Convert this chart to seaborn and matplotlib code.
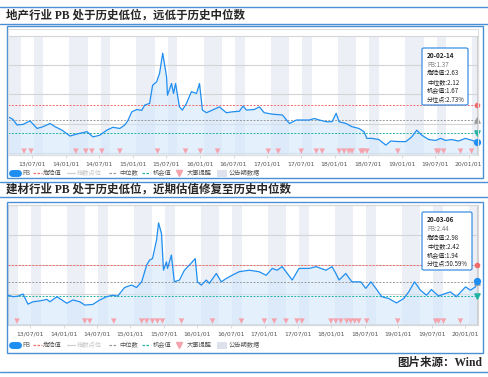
import pandas as pd
import numpy as np
import matplotlib.pyplot as plt
import seaborn as sns
from matplotlib.patches import Rectangle, FancyBboxPatch
from matplotlib.lines import Line2D

# 地产行业 PB
re_dates = ['2013-02-22', '2013-03-20', '2013-04-11', '2013-05-14', '2013-06-21', '2013-07-29',
            '2013-08-30', '2013-10-08', '2013-11-04', '2013-12-12', '2014-01-24', '2014-03-03',
            '2014-04-27', '2014-05-29', '2014-07-05', '2014-08-12', '2014-09-14', '2014-10-22',
            '2014-11-18', '2014-12-04', '2014-12-26', '2015-01-22', '2015-02-18', '2015-03-06',
            '2015-04-02', '2015-04-18', '2015-05-10', '2015-05-26', '2015-06-12', '2015-07-03',
            '2015-07-08', '2015-07-30', '2015-08-10', '2015-08-21', '2015-09-11', '2015-09-27',
            '2015-10-19', '2015-11-15', '2015-12-13', '2015-12-29', '2016-01-14', '2016-02-05',
            '2016-03-08', '2016-04-15', '2016-05-23', '2016-06-25', '2016-08-02', '2016-08-22',
            '2016-09-09', '2016-10-22', '2016-11-18', '2016-12-15', '2017-01-28', '2017-03-24',
            '2017-05-01', '2017-06-08', '2017-07-10', '2017-08-17', '2017-09-13', '2017-10-10',
            '2017-11-17', '2017-12-19', '2018-01-10', '2018-01-26', '2018-03-05', '2018-04-06',
            '2018-05-14', '2018-06-10', '2018-06-26', '2018-07-23', '2018-08-30', '2018-10-07',
            '2018-11-03', '2018-12-16', '2019-01-24', '2019-02-25', '2019-03-24', '2019-04-20',
            '2019-05-28', '2019-07-05', '2019-08-01', '2019-08-28', '2019-09-29', '2019-11-06',
            '2019-12-14', '2020-02-14']
re_pb = [2.23, 2.14, 1.95, 1.97, 2.09, 1.83, 1.89, 2.00, 1.89, 1.77, 1.57, 1.64,
         1.72, 1.54, 1.60, 1.77, 1.87, 1.83, 1.95, 2.09, 2.40, 2.48, 2.45, 2.63,
         2.69, 3.31, 3.43, 3.72, 4.41, 3.60, 2.97, 3.37, 3.03, 3.37, 2.57, 2.46,
         2.69, 3.09, 3.03, 3.37, 2.46, 2.37, 2.46, 2.57, 2.37, 2.40, 2.42, 2.60,
         2.46, 2.48, 2.57, 2.37, 2.32, 2.29, 2.00, 2.12, 2.12, 2.12, 2.17, 2.12,
         2.06, 2.06, 2.35, 2.06, 2.00, 1.89, 1.83, 1.72, 1.49, 1.49, 1.45, 1.26,
         1.40, 1.38, 1.38, 1.54, 1.77, 1.60, 1.45, 1.42, 1.49, 1.42, 1.45, 1.40,
         1.49, 1.37]
re_levels = [2.63, 2.12, 1.67]  # 危险值, 中位数, 机会值
re_events = ['2013-05-19', '2013-06-26', '2014-02-25', '2014-04-20', '2014-05-23', '2014-07-16',
             '2014-10-22', '2015-05-15', '2015-10-14', '2016-01-03', '2016-04-05', '2017-01-06',
             '2017-03-01', '2017-07-04', '2017-09-24', '2017-10-26', '2018-01-26', '2018-02-22',
             '2018-03-20', '2018-04-06', '2018-05-25', '2018-06-05', '2018-06-26', '2018-12-11',
             '2019-07-10', '2019-07-21', '2019-08-17', '2019-11-17', '2020-01-16']

# 建材行业 PB
bm_dates = ['2013-03-05', '2013-04-01', '2013-04-28', '2013-05-25', '2013-06-21', '2013-07-18',
            '2013-08-25', '2013-10-02', '2013-10-19', '2013-11-26', '2013-12-23', '2014-01-19',
            '2014-02-21', '2014-03-30', '2014-04-27', '2014-06-09', '2014-07-17', '2014-08-24',
            '2014-09-26', '2014-10-23', '2014-11-30', '2015-01-07', '2015-02-03', '2015-03-03',
            '2015-03-30', '2015-04-15', '2015-05-01', '2015-05-23', '2015-06-03', '2015-06-19',
            '2015-06-30', '2015-07-16', '2015-07-22', '2015-08-12', '2015-08-28', '2015-09-25',
            '2015-10-22', '2015-11-18', '2015-12-04', '2015-12-20', '2016-01-01', '2016-01-22',
            '2016-02-18', '2016-03-06', '2016-04-13', '2016-05-10', '2016-06-06', '2016-07-08',
            '2016-08-16', '2016-10-09', '2016-12-02', '2017-01-10', '2017-02-12', '2017-03-11',
            '2017-04-07', '2017-06-01', '2017-07-08', '2017-09-01', '2017-10-09', '2017-12-02',
            '2018-01-04', '2018-01-25', '2018-02-11', '2018-03-20', '2018-04-22', '2018-06-10',
            '2018-07-07', '2018-08-04', '2018-08-31', '2018-10-02', '2018-11-09', '2018-12-22',
            '2019-01-30', '2019-02-26', '2019-03-30', '2019-05-01', '2019-06-03', '2019-06-30',
            '2019-08-08', '2019-09-15', '2019-10-12', '2019-11-13', '2020-01-02', '2020-01-29',
            '2020-02-25', '2020-03-06']
bm_pb = [1.97, 1.92, 1.94, 2.01, 1.67, 1.75, 1.78, 1.83, 1.75, 1.92, 1.81, 1.70,
         1.81, 1.75, 1.64, 1.66, 1.81, 1.92, 1.97, 1.94, 2.23, 2.31, 2.23, 2.42,
         2.98, 3.15, 3.20, 3.82, 4.40, 4.04, 2.81, 3.09, 2.87, 3.32, 2.42, 2.48,
         2.81, 2.98, 3.09, 3.20, 2.42, 2.31, 2.48, 2.37, 2.70, 2.42, 2.53, 2.64,
         2.76, 2.81, 2.76, 2.64, 2.87, 2.81, 2.93, 2.48, 2.87, 2.87, 2.93, 2.81,
         2.93, 2.70, 2.48, 2.70, 2.42, 2.42, 2.20, 2.42, 2.20, 1.92, 1.86, 1.71,
         1.86, 2.08, 2.42, 2.14, 1.97, 2.16, 1.94, 2.03, 2.08, 1.92, 2.25, 2.14,
         2.25, 2.44]
bm_levels = [2.98, 2.42, 1.94]
bm_events = ['2013-04-22', '2014-04-27', '2014-05-24', '2014-10-02', '2015-03-03', '2015-03-30',
             '2015-05-01', '2015-05-28', '2015-06-24', '2015-10-06', '2016-03-23', '2016-08-28',
             '2016-12-31', '2017-02-23', '2017-04-28', '2017-06-27', '2017-07-24', '2017-12-29',
             '2018-01-25', '2018-02-21', '2018-03-25', '2018-04-16', '2018-05-08', '2018-05-30',
             '2018-07-12', '2018-12-28', '2019-07-23', '2019-08-08', '2019-09-04', '2019-12-05']

# 公告期
band_starts = ['2013-01-20', '2013-07-10', '2014-01-20', '2014-07-10', '2015-01-20', '2015-07-10',
               '2016-01-20', '2016-07-10', '2017-01-20', '2017-07-10', '2018-01-20', '2018-07-10',
               '2019-01-20', '2019-07-10', '2020-01-20']
band_ends = ['2013-04-30', '2013-08-31', '2014-04-30', '2014-08-31', '2015-04-30', '2015-08-31',
             '2016-04-30', '2016-08-31', '2017-04-30', '2017-08-31', '2018-04-30', '2018-08-31',
             '2019-04-30', '2019-08-31', '2020-04-30']

titles = ['地产行业 PB 处于历史低位，远低于历史中位数', '建材行业 PB 处于历史低位，近期估值修复至历史中位数']
tips = [['20-02-14', 'PB:1.37', '危险值:2.63', '中位数:2.12', '机会值:1.67', '分位点:2.73%'],
        ['20-03-06', 'PB:2.44', '危险值:2.98', '中位数:2.42', '机会值:1.94', '分位点:50.59%']]
legend_labels = ['PB', '危险值', '指数点位', '中位数', '机会值', '大事提醒', '公告期数据']

W, H = 489, 377
BLUE = '#4a90d6'
PB_C = '#1f8ef1'
RED = '#f26b6b'
GRAY = '#9a9a9a'
TEAL = '#22b3a3'
PINK = '#f5a3ad'
BAND = '#eceff6'
CJK = ['Noto Sans CJK SC', 'DejaVu Sans']

sns.set_theme(style='white')
plt.rcParams['font.family'] = CJK


def fx(x):
    return x / W


def fy(y):
    return 1 - y / H


fig = plt.figure(figsize=(W / 100, H / 100), dpi=100)


def draw_panel(ax, dates, pb, levels, events, xlim, ylim):
    dates = pd.to_datetime(dates)
    for s, e in zip(pd.to_datetime(band_starts), pd.to_datetime(band_ends)):
        ax.axvspan(s, e, color=BAND, lw=0, zorder=0)
    for g in [1, 2, 3, 4]:
        ax.axhline(g, color='#d4d4d4', lw=0.8, zorder=1)
    ax.fill_between(dates, pb, 0, color='#d3e8fc', alpha=0.6, lw=0, zorder=2)
    sns.lineplot(x=dates, y=pb, ax=ax, color=PB_C, lw=0.9, zorder=4)
    for v, c in zip(levels, [RED, GRAY, TEAL]):
        ax.axhline(v, color=c, ls=(0, (2, 1.5)), lw=0.7, zorder=3)
    ev = pd.to_datetime(events)
    sns.scatterplot(x=ev, y=[ylim[0] + 0.13] * len(ev), marker='v', s=16, color=PINK,
                    edgecolor='none', ax=ax, zorder=5)
    last = dates[-1]
    ax.axvline(last, color='#cfcfcf', lw=0.8, zorder=3)
    ax.scatter([last], [levels[0]], s=9, color=RED, zorder=6, clip_on=False)
    ax.scatter([last], [levels[1]], s=14, marker='^', color=GRAY, zorder=6, clip_on=False)
    ax.scatter([last], [levels[2]], s=14, marker='v', color=TEAL, zorder=6, clip_on=False)
    ax.scatter([last], [pb[-1]], s=18, color=PB_C, zorder=7, clip_on=False)
    ax.set_xlim(pd.to_datetime(xlim))
    ax.set_ylim(ylim)
    ticks = pd.date_range('2013-07-01', '2020-01-01', freq='6MS')
    ax.set_xticks(ticks)
    ax.set_xticklabels([t.strftime('%y/%m/%d') for t in ticks], fontsize=4.4,
                       color='#555555', family='DejaVu Sans')
    ax.set_yticks([])
    ax.tick_params(axis='x', length=2, width=0.5, color='#cccccc', pad=2.5, bottom=True)
    ax.set_xlabel('')
    ax.set_ylabel('')
    for sp in ax.spines.values():
        sp.set_color('#d6d6d6')
        sp.set_linewidth(0.8)


def draw_tip(x0, y0, x1, y1, lines):
    fig.add_artist(FancyBboxPatch((fx(x0), fy(y1)), fx(x1) - fx(x0), fy(y0) - fy(y1),
                                  boxstyle='round,pad=0,rounding_size=0.004',
                                  facecolor='white', edgecolor='#3d8fe0', lw=0.9, zorder=10))
    step = (y1 - y0 - 9) / 5.6
    for i, t in enumerate(lines):
        fig.text(fx(x0 + 5), fy(y0 + 8 + i * step), t, fontsize=4.6 if i == 0 else 4.4,
                 fontweight='bold' if i == 0 else 'normal',
                 color='#222222' if i != 1 else '#777777', va='center', zorder=11)


def draw_legend(y):
    fig.add_artist(Line2D([fx(12), fx(18)], [fy(y)] * 2, lw=5, color=PB_C, solid_capstyle='round'))
    fig.add_artist(Line2D([fx(33), fx(42)], [fy(y)] * 2, lw=0.9, color=RED, ls=(0, (2, 1.2))))
    fig.add_artist(Line2D([fx(67), fx(75)], [fy(y)] * 2, lw=0.9, color='#cfcfcf'))
    fig.add_artist(Line2D([fx(109), fx(117)], [fy(y)] * 2, lw=0.9, color=GRAY, ls=(0, (2, 1.2))))
    fig.add_artist(Line2D([fx(142), fx(150)], [fy(y)] * 2, lw=0.9, color=TEAL, ls=(0, (2, 1.2))))
    fig.add_artist(Line2D([fx(179.5)], [fy(y)], marker='v', ms=4.5, color=PINK, lw=0))
    fig.add_artist(Rectangle((fx(217), fy(y + 3.5)), fx(227) - fx(217), 7 / H, color='#dde1ec', lw=0))
    xs = [22, 43, 77, 119, 153, 187, 229]
    for lab, x in zip(legend_labels, xs):
        fig.text(fx(x), fy(y), lab, fontsize=4.5, va='center',
                 color='#c4c4c4' if lab == '指数点位' else '#555555')


def hline(y, x0=0, x1=W, c=BLUE, lw=1.0):
    fig.add_artist(Line2D([fx(x0), fx(x1)], [fy(y)] * 2, color=c, lw=lw))


title_font = ['Liberation Serif', 'Noto Sans CJK SC']

# panel 1
hline(7)
hline(24)
fig.text(fx(6), fy(15.5), titles[0], fontsize=8.3, fontweight='bold', family=title_font, va='center')
fig.add_artist(Rectangle((fx(7), fy(178)), fx(483) - fx(7), fy(26) - fy(178), fill=False,
                         edgecolor=BLUE, lw=1.0))
fig.add_artist(Rectangle((fx(8), fy(155)), fx(478) - fx(8), fy(29) - fy(155), fill=False,
                         edgecolor='#dedede', lw=0.8))
ax1 = fig.add_axes([fx(8), fy(155), fx(478) - fx(8), fy(36) - fy(155)])
draw_panel(ax1, re_dates, re_pb, re_levels, re_events, ['2013-02-21', '2020-02-20'], (0.92, 5.0))
draw_tip(422, 48, 468, 105, tips[0])
draw_legend(173)

# panel 2
hline(182)
hline(197)
fig.text(fx(6), fy(190), titles[1], fontsize=8.3, fontweight='bold', family=title_font, va='center')
fig.add_artist(Rectangle((fx(7), fy(353)), fx(483) - fx(7), fy(202) - fy(353), fill=False,
                         edgecolor=BLUE, lw=1.0))
ax2 = fig.add_axes([fx(8), fy(325), fx(478) - fx(8), fy(205) - fy(325)])
draw_panel(ax2, bm_dates, bm_pb, bm_levels, bm_events, ['2013-03-04', '2020-03-10'], (0.97, 5.0))
draw_tip(422, 212, 472, 270, tips[1])
draw_legend(345)

fig.text(fx(482), fy(363), '图片来源：Wind', fontsize=8.3, fontweight='bold', family=title_font,
         ha='right', va='center')
hline(372)

fig.savefig('out.png', dpi=100)
